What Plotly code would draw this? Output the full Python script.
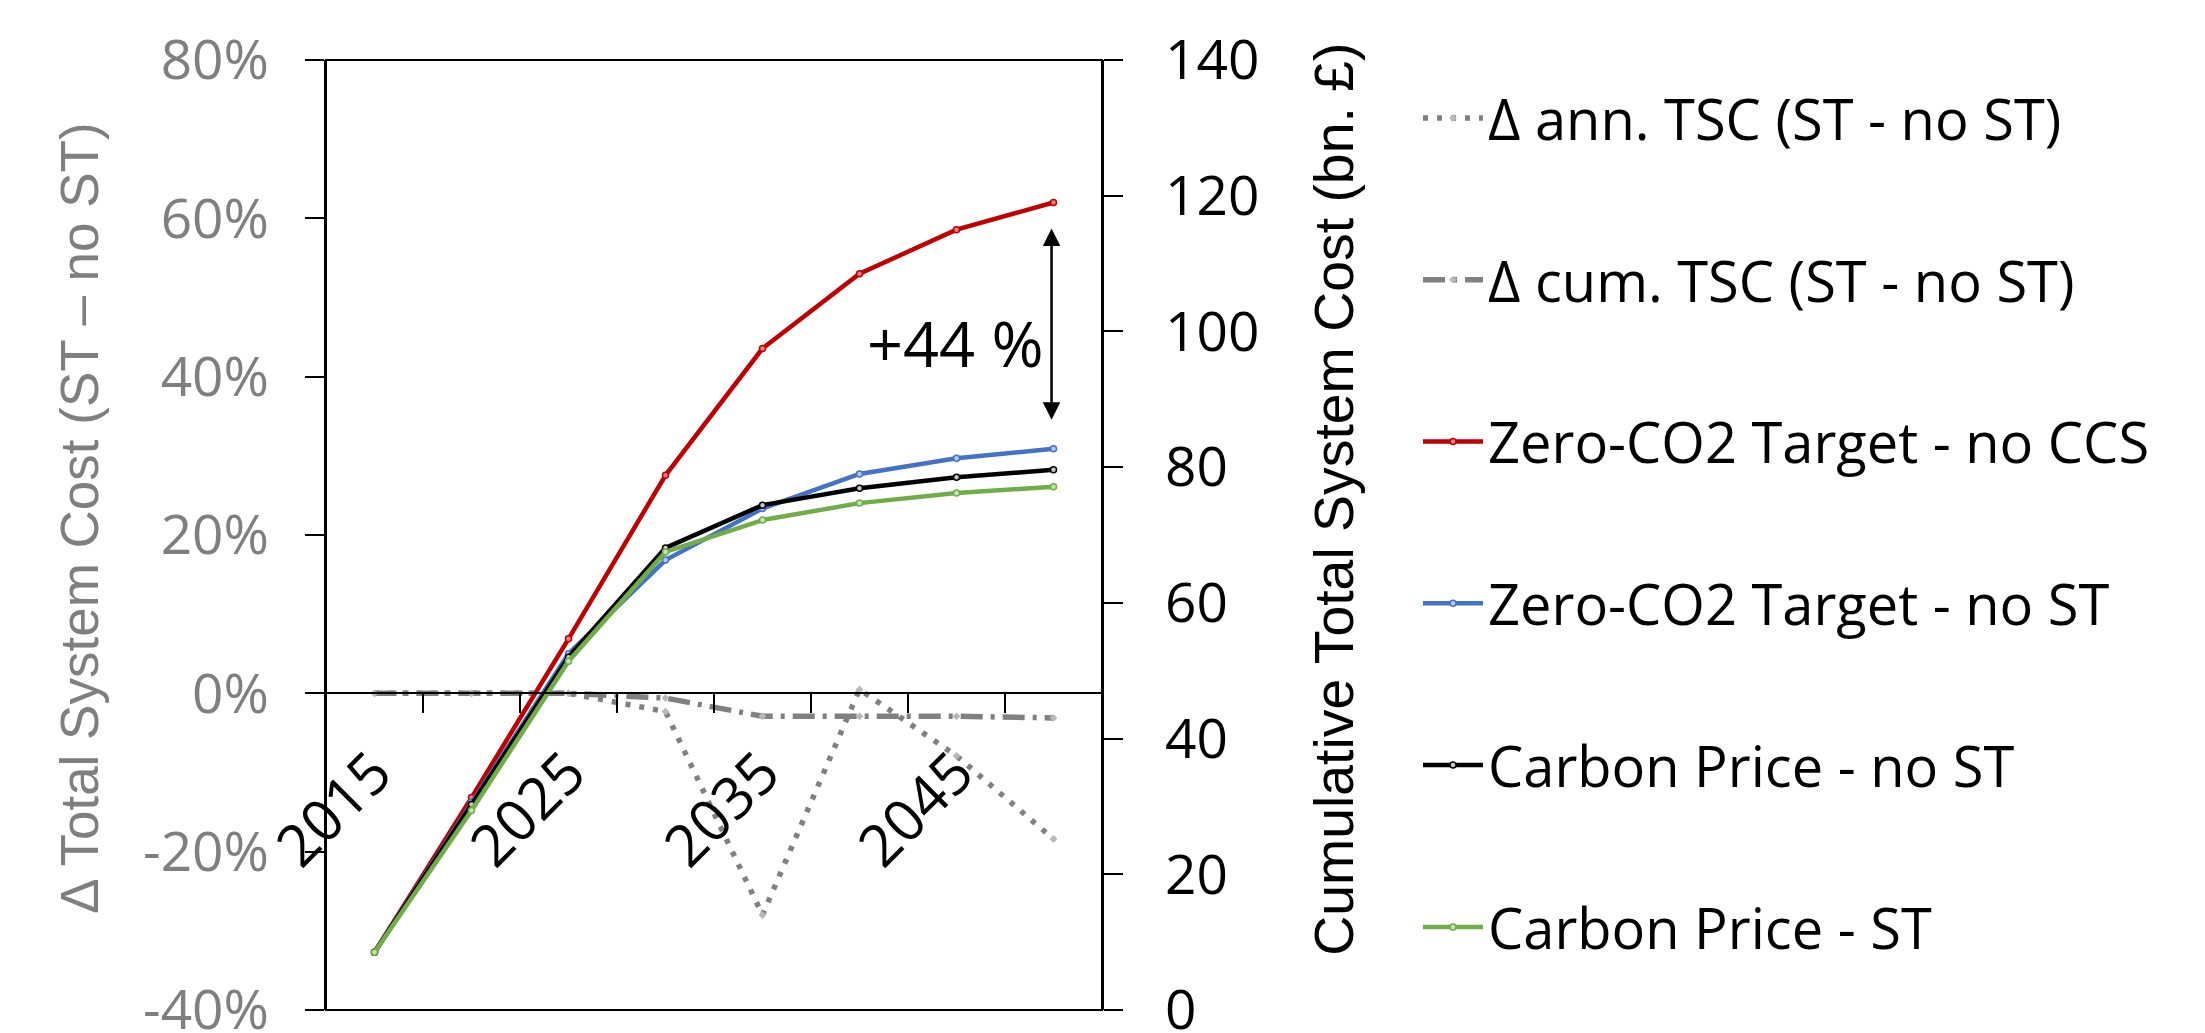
import plotly.graph_objects as go

# ---------------- data ----------------
years = ["2015", "2020", "2025", "2030", "2035", "2040", "2045", "2050"]
year_labels = ["2015", "", "2025", "", "2035", "", "2045", ""]

delta_ann = [0.0, 0.0, 0.0, -2.3, -28.0, 0.5, -7.9, -18.4]   # % (left axis)
delta_cum = [0.0, 0.0, 0.0, -0.6, -2.9, -2.9, -2.9, -3.1]    # % (left axis)

zero_no_ccs = [8.5, 31.3, 54.7, 78.8, 97.5, 108.5, 115.0, 119.0]  # bn £ (right axis)
zero_no_st = [8.5, 30.6, 52.5, 66.3, 73.9, 79.0, 81.3, 82.7]
cp_no_st = [8.5, 30.3, 52.0, 68.1, 74.4, 76.9, 78.5, 79.6]
cp_st = [8.5, 29.4, 51.4, 67.5, 72.2, 74.7, 76.2, 77.1]

left_tickvals = [-40, -20, 0, 20, 40, 60, 80]
left_ticktext = ["-40%", "-20%", "0%", "20%", "40%", "60%", "80%"]
right_tickvals = [0, 20, 40, 60, 80, 100, 120, 140]

names = ["Δ ann. TSC (ST - no ST)", "Δ cum. TSC (ST - no ST)",
         "Zero-CO2 Target - no CCS", "Zero-CO2 Target - no ST",
         "Carbon Price - no ST", "Carbon Price - ST"]

# ---------------- figure ----------------
W, H = 2205, 1033
L, R, T, B = 326, 1102, 60, 1010.5

fig = go.Figure()

GRAY = "#808080"
fig.add_trace(go.Scatter(
    x=years, y=delta_ann, name=names[0], mode="lines+markers", yaxis="y",
    line=dict(color=GRAY, width=5.5, dash="5px,9px"),
    marker=dict(symbol="diamond", size=6, color="#b8b8b8", line=dict(width=0)),
    legendgroup="g1"))
fig.add_trace(go.Scatter(
    x=years, y=delta_cum, name=names[1], mode="lines+markers", yaxis="y",
    line=dict(color=GRAY, width=5.5, dash="22px,8px,4px,8px"),
    marker=dict(symbol="diamond", size=6, color="#b8b8b8", line=dict(width=0)),
    legendgroup="g2"))

series = [
    (zero_no_ccs, names[2], "#C00000", "#f08080", "g3"),
    (zero_no_st, names[3], "#4472C4", "#b4c8ee", "g4"),
    (cp_no_st, names[4], "#000000", "#c8c8c8", "g5"),
    (cp_st, names[5], "#70AD47", "#c5e4b0", "g6"),
]
for vals, nm, col, light, grp in series:
    fig.add_trace(go.Scatter(
        x=years, y=vals, name=nm, mode="lines+markers", yaxis="y2",
        line=dict(color=col, width=4.5),
        marker=dict(symbol="circle", size=6, color=light, line=dict(color=col, width=1.5)),
        legendgroup=grp))

tickfont_l = dict(family="Open Sans", size=55, color="#7f7f7f")
tickfont_r = dict(family="Open Sans", size=55, color="#000000")

fig.update_layout(
    width=W, height=H, autosize=False,
    margin=dict(l=L, r=W - R, t=T, b=H - B, pad=0, autoexpand=False),
    paper_bgcolor="white", plot_bgcolor="white",
    showlegend=True,
    legend=dict(
        x=(1418 - L) / (R - L), xanchor="left",
        y=(B - 75) / (B - T), yanchor="top",
        font=dict(family="Open Sans", size=56, color="black"),
        traceorder="grouped", tracegroupgap=86,
        bgcolor="rgba(0,0,0,0)", borderwidth=0, itemwidth=60,
    ),
    xaxis=dict(
        type="category", categoryorder="array", categoryarray=years,
        range=[-0.5, len(years) - 0.5], automargin=False,
        anchor="free", position=(0 - left_tickvals[0]) / (left_tickvals[-1] - left_tickvals[0]),
        showline=True, linecolor="black", linewidth=2,
        ticks="outside", ticklen=19, tickwidth=2, tickcolor="black",
        tickson="boundaries",
        tickmode="array", tickvals=years, ticktext=year_labels,
        tickangle=-45, ticklabelstandoff=21,
        tickfont=dict(family="Open Sans", size=58, color="black"),
        showgrid=False, zeroline=False,
    ),
    yaxis=dict(
        range=[left_tickvals[0], left_tickvals[-1]], automargin=False,
        tickmode="array", tickvals=left_tickvals, ticktext=left_ticktext,
        showline=True, linecolor="black", linewidth=2,
        ticks="outside", ticklen=19, tickwidth=2, tickcolor="black",
        ticklabelstandoff=25, ticklabeloverflow="allow",
        tickfont=tickfont_l, showgrid=False, zeroline=False,
    ),
    yaxis2=dict(
        range=[right_tickvals[0], right_tickvals[-1]], overlaying="y", side="right",
        automargin=False,
        tickmode="array", tickvals=right_tickvals,
        showline=True, linecolor="black", linewidth=2,
        ticks="outside", ticklen=19, tickwidth=2, tickcolor="black",
        ticklabelstandoff=31, ticklabeloverflow="allow",
        tickfont=tickfont_r, showgrid=False, zeroline=False,
    ),
)

# plot-area frame
fig.add_shape(type="rect", xref="paper", yref="paper", x0=0, x1=1, y0=0, y1=1,
              line=dict(color="black", width=2), layer="below")

# axis titles
fig.add_annotation(text="Δ Total System Cost (ST – no ST)", textangle=-90,
                   xref="paper", yref="paper",
                   x=(80 - L) / (R - L), y=(B - 519) / (B - T),
                   xanchor="center", yanchor="middle", showarrow=False,
                   font=dict(family="Liberation Sans", size=53, color="#7f7f7f"))
fig.add_annotation(text="Cumulative Total System Cost (bn. £)", textangle=-90,
                   xref="paper", yref="paper",
                   x=(1334 - L) / (R - L), y=(B - 500) / (B - T),
                   xanchor="center", yanchor="middle", showarrow=False,
                   font=dict(family="Liberation Sans", size=55.4, color="black"))

# +44 % gap arrow between red and blue at 2050
last = len(years) - 1
arrow_top = zero_no_ccs[last] - 3.6
arrow_bot = zero_no_st[last] + 4.3
fig.add_annotation(x=last - 0.02, y=arrow_bot, ax=last - 0.02, ay=arrow_top,
                   xref="x", yref="y2", axref="x", ayref="y2", text="",
                   showarrow=True, arrowside="end+start",
                   arrowhead=2, startarrowhead=2, arrowsize=1.4, startarrowsize=1.4,
                   arrowwidth=2.5, arrowcolor="black")
pct = round((zero_no_ccs[last] / zero_no_st[last] - 1) * 100)
fig.add_annotation(x=last - 0.08, y=(arrow_top + arrow_bot) / 2 - 2.9,
                   xref="x", yref="y2", text=f"+{pct} %",
                   xanchor="right", yanchor="middle", showarrow=False,
                   font=dict(family="Open Sans", size=63, color="black"))

fig.write_html("out.html", config={"displayModeBar": False},
               post_script="document.body.style.margin='0';document.body.style.overflow='hidden';")
